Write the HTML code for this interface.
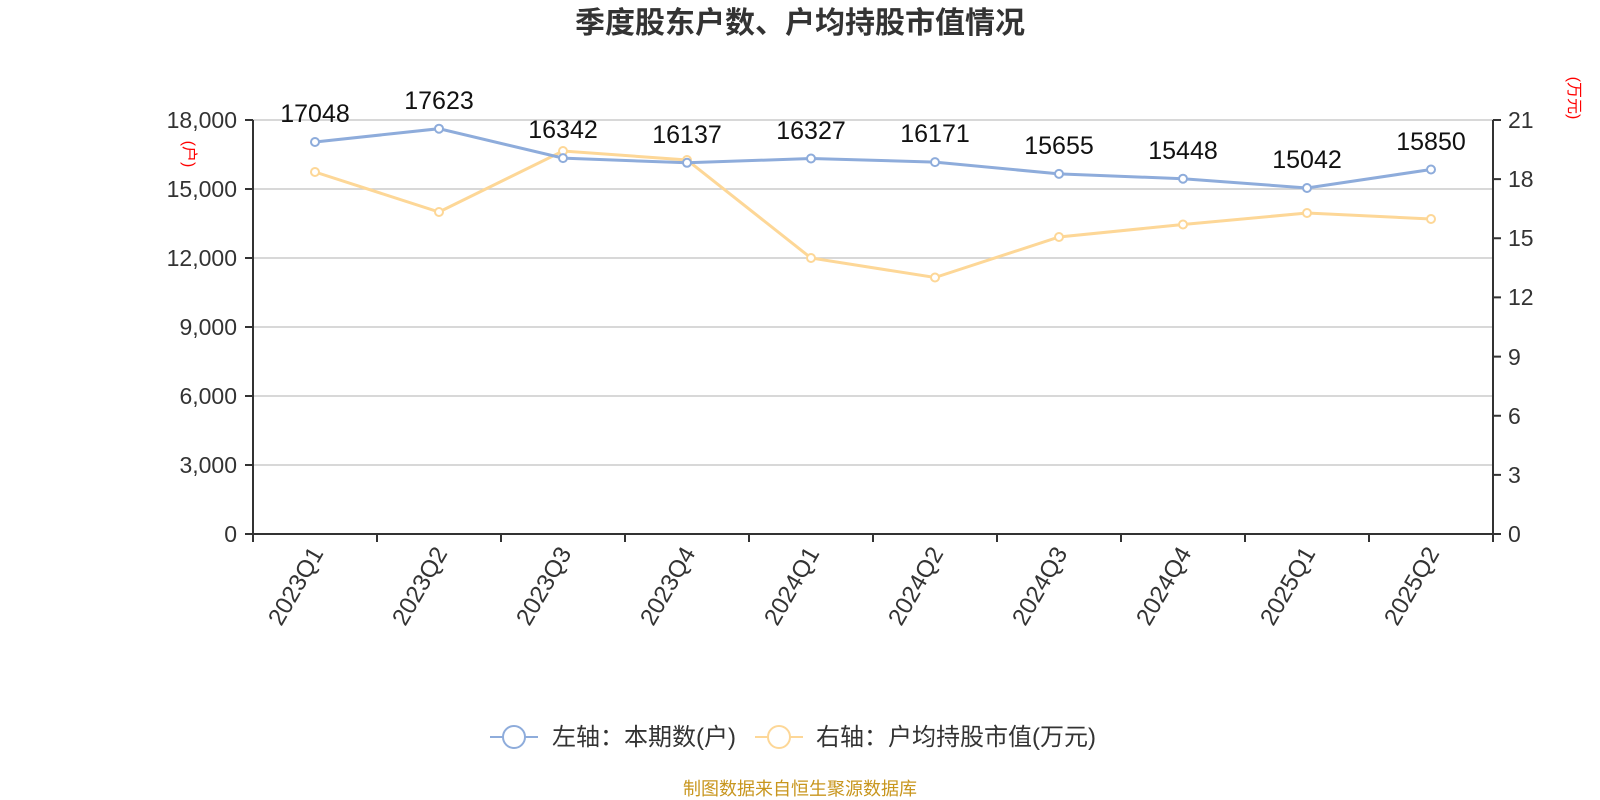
<!DOCTYPE html><html><head><meta charset="utf-8"><style>body{margin:0;background:#fff}svg{display:block}text{font-family:"Liberation Sans","Noto Sans CJK SC",sans-serif}</style></head><body>
<svg width="1600" height="800" xmlns="http://www.w3.org/2000/svg">
<text x="800" y="33" text-anchor="middle" font-size="30" font-weight="bold" fill="#333">季度股东户数、户均持股市值情况</text>
<g stroke="#ccc" stroke-width="1.5">
<line x1="253" x2="1493" y1="120" y2="120"/><line x1="253" x2="1493" y1="189" y2="189"/><line x1="253" x2="1493" y1="258" y2="258"/><line x1="253" x2="1493" y1="327" y2="327"/><line x1="253" x2="1493" y1="396" y2="396"/><line x1="253" x2="1493" y1="465" y2="465"/></g>
<g stroke="#333" stroke-width="2">
<line x1="253" y1="120" x2="253" y2="534"/><line x1="1493" y1="120" x2="1493" y2="534"/><line x1="253" y1="534" x2="1493" y2="534"/>
<path d="M245 120h8M245 189h8M245 258h8M245 327h8M245 396h8M245 465h8M245 534h8M1493 120h8M1493 179.1h8M1493 238.3h8M1493 297.4h8M1493 356.6h8M1493 415.7h8M1493 474.9h8M1493 534h8"/>
<path d="M253 534v8M377 534v8M501 534v8M625 534v8M749 534v8M873 534v8M997 534v8M1121 534v8M1245 534v8M1369 534v8M1493 534v8"/></g>
<g font-size="23" fill="#333" text-anchor="end">
<text x="237" y="128">18,000</text><text x="237" y="197">15,000</text><text x="237" y="266">12,000</text><text x="237" y="335">9,000</text><text x="237" y="404">6,000</text><text x="237" y="473">3,000</text><text x="237" y="542">0</text></g>
<g font-size="23" fill="#333">
<text x="1508" y="128">21</text><text x="1508" y="187">18</text><text x="1508" y="246">15</text><text x="1508" y="305">12</text><text x="1508" y="365">9</text><text x="1508" y="424">6</text><text x="1508" y="483">3</text><text x="1508" y="542">0</text></g>
<text transform="translate(184,154) rotate(90)" font-size="16" fill="red" text-anchor="middle">(户)</text>
<text transform="translate(1569,98) rotate(90)" font-size="16" fill="red" text-anchor="middle">(万元)</text>
<g font-size="24" fill="#333" text-anchor="end">
<text transform="translate(324,553) rotate(-60)">2023Q1</text><text transform="translate(448,553) rotate(-60)">2023Q2</text><text transform="translate(572,553) rotate(-60)">2023Q3</text><text transform="translate(696,553) rotate(-60)">2023Q4</text><text transform="translate(820,553) rotate(-60)">2024Q1</text><text transform="translate(944,553) rotate(-60)">2024Q2</text><text transform="translate(1068,553) rotate(-60)">2024Q3</text><text transform="translate(1192,553) rotate(-60)">2024Q4</text><text transform="translate(1316,553) rotate(-60)">2025Q1</text><text transform="translate(1440,553) rotate(-60)">2025Q2</text></g>
<polyline fill="none" stroke="#fdd797" stroke-width="3" points="315,172 439,212 563,151 687,160 811,258 935,277.5 1059,237 1183,224.5 1307,213 1431,219"/>
<g fill="#fff" stroke="#fdd797" stroke-width="2"><circle cx="315" cy="172" r="4"/><circle cx="439" cy="212" r="4"/><circle cx="563" cy="151" r="4"/><circle cx="687" cy="160" r="4"/><circle cx="811" cy="258" r="4"/><circle cx="935" cy="277.5" r="4"/><circle cx="1059" cy="237" r="4"/><circle cx="1183" cy="224.5" r="4"/><circle cx="1307" cy="213" r="4"/><circle cx="1431" cy="219" r="4"/></g>
<polyline fill="none" stroke="#8eacdb" stroke-width="3" points="315,142 439,128.7 563,158.1 687,162.8 811,158.5 935,162.1 1059,173.9 1183,178.7 1307,188 1431,169.5"/>
<g fill="#fff" stroke="#8eacdb" stroke-width="2"><circle cx="315" cy="142" r="4"/><circle cx="439" cy="128.7" r="4"/><circle cx="563" cy="158.1" r="4"/><circle cx="687" cy="162.8" r="4"/><circle cx="811" cy="158.5" r="4"/><circle cx="935" cy="162.1" r="4"/><circle cx="1059" cy="173.9" r="4"/><circle cx="1183" cy="178.7" r="4"/><circle cx="1307" cy="188" r="4"/><circle cx="1431" cy="169.5" r="4"/></g>
<g font-size="25" fill="#111" text-anchor="middle">
<text x="315" y="122">17048</text><text x="439" y="109">17623</text><text x="563" y="138">16342</text><text x="687" y="143">16137</text><text x="811" y="139">16327</text><text x="935" y="142">16171</text><text x="1059" y="154">15655</text><text x="1183" y="159">15448</text><text x="1307" y="168">15042</text><text x="1431" y="150">15850</text></g>
<line x1="490" x2="538" y1="737" y2="737" stroke="#8eacdb" stroke-width="2"/><circle cx="514" cy="737" r="11" fill="#fff" stroke="#8eacdb" stroke-width="2"/>
<text x="552" y="745" font-size="24" fill="#333">左轴：本期数(户)</text>
<line x1="755" x2="803" y1="737" y2="737" stroke="#fdd797" stroke-width="2"/><circle cx="779" cy="737" r="11" fill="#fff" stroke="#fdd797" stroke-width="2"/>
<text x="816" y="745" font-size="24" fill="#333">右轴：户均持股市值(万元)</text>
<text x="800" y="795" font-size="18" fill="#c8961e" text-anchor="middle">制图数据来自恒生聚源数据库</text>
</svg></body></html>
